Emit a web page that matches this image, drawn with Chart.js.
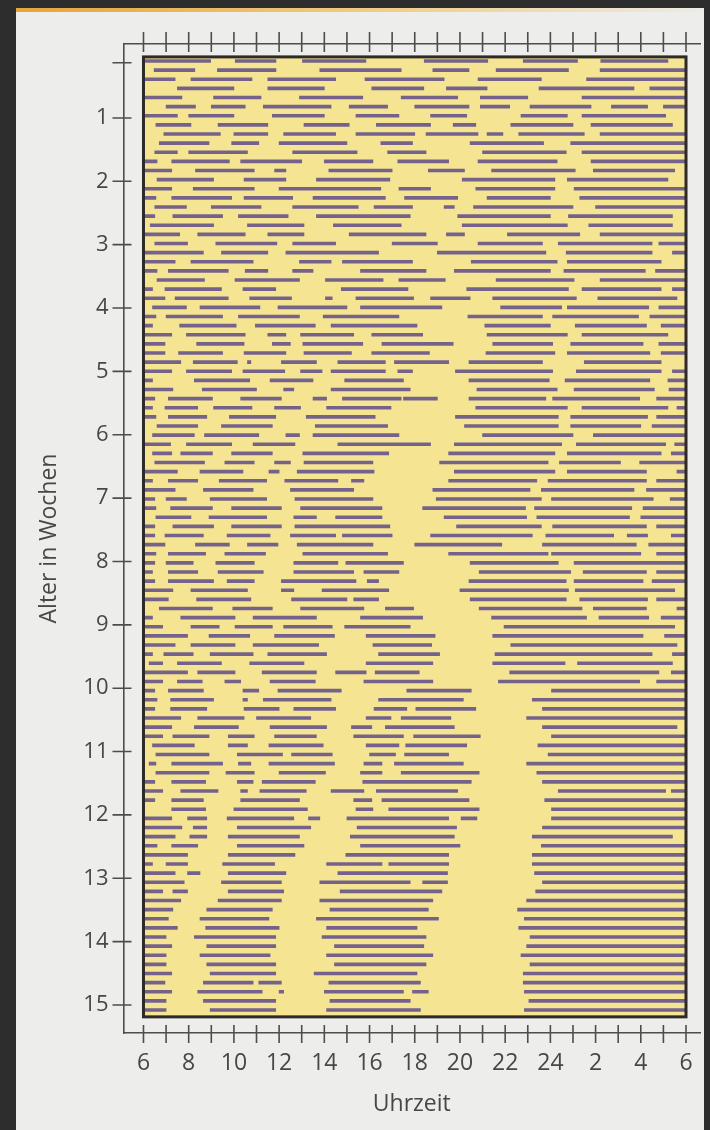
<!DOCTYPE html>
<html>
<head>
<meta charset="utf-8">
<title>Schlaf-Wach-Rhythmus</title>
<script src="https://cdn.jsdelivr.net/npm/chart.js@4.4.1/dist/chart.umd.min.js"></script>
<style>
html, body { margin: 0; padding: 0; background: #2d2d2d; }
#page { position: relative; width: 710px; height: 1130px; overflow: hidden; background: #2d2d2d; }
#paper { position: absolute; left: 16px; top: 8px; right: 6px; bottom: 0; background: #ededeb; }
#paper::before { content: ''; position: absolute; left: 0; right: 0; top: 0; height: 4px;
  background: linear-gradient(to right, #e6a43a, #f0cf8a 55%, #ecebe6 100%); }
canvas { position: absolute; left: 0; top: 0; }
</style>
</head>
<body>
<div id="page">
  <div id="paper"></div>
  <canvas id="chart" width="710" height="1130"></canvas>
</div>
<script>
// hour ticks (6 in the morning to 6 next morning) and week ticks
const hourTicks = [6,7,8,9,10,11,12,13,14,15,16,17,18,19,20,21,22,23,24,25,26,27,28,29,30];
const weekTicks = [1,2,3,4,5,6,7,8,9,10,11,12,13,14,15];

// sleep periods per day, [from, to] in hours (24+ = after midnight)
const week01 = [
  [[6,8.97],[10.06,11.86],[13.03,15.84],[18.42,21.23],[22.8,25.2],[26.23,29.2]],
  [[6.47,8.27],[9.27,11.86],[13.8,17.4],[18.8,20.4],[21.6,24.8],[26.2,30]],
  [[6,7.4],[8.1,10.8],[11.5,14.5],[15.8,19.3],[20.8,23.6],[25.6,30]],
  [[7.5,10],[11.5,14],[16.1,18.4],[19.4,21.2],[23.5,27.7],[28.4,30]],
  [[6,7.7],[9.1,11.2],[12.9,15.7],[17.4,19.9],[20.9,23],[25.4,30]],
  [[7,8.3],[9,10.5],[11.3,14.3],[15.1,16.8],[18,20.4],[20.9,22.2],[23.1,25.8],[26.7,28.3],[29,30]],
  [[6,7.5],[8,10],[11.7,14],[15.4,17.3],[18.7,20.3],[22.7,24.75],[25.4,29.1]]
];
const week02 = [
  [[6.55,8.1],[9.3,11.5],[13.1,15.1],[16.3,18.7],[19.7,20.7],[22.25,25],[25.8,29.4]],
  [[6.9,9.4],[10,11.5],[12.2,14.5],[15.4,18],[18.5,20.8],[21.2,21.9],[22.6,25.5],[26.2,30]],
  [[6.7,8.9],[9.9,11.1],[12,15],[16.5,17.9],[20.45,23.7],[24.9,30]],
  [[6.5,7.5],[8,10.6],[12.6,15.45],[16.8,18.5],[21,24.7],[25.4,30]],
  [[6,6.6],[7.25,9.8],[10.3,13],[14,16.15],[17.25,19.5],[20.8,24.3],[25.8,30]],
  [[6,7.25],[8.3,10.9],[11.8,12.3],[14.2,17],[18.6,20.2],[21.4,25.1],[25.9,29.5]],
  [[6.6,9.1],[10.45,12.3],[13.65,16.9],[20.1,24.2],[24.75,29.2]]
];
const week03 = [
  [[6,7.25],[8.2,10.9],[12,16.5],[17.3,18.7],[20.7,24.2],[25.05,30]],
  [[6,6.55],[7.25,9.9],[10.45,12.6],[13.5,16.7],[17.55,19.9],[21.2,24],[25.3,30]],
  [[6.5,7.9],[9,11.2],[12.6,15.5],[16.2,17.9],[19.3,19.75],[20.6,25],[26,30]],
  [[6,6.5],[7.3,9.5],[10.2,12.4],[13.65,17.8],[19.9,24],[24.8,29.4]],
  [[6.3,9.1],[10.6,13.1],[14.4,17.4],[20.1,24.75],[25.7,29.4]],
  [[6,7.6],[8.4,10.5],[11.5,13.1],[15.1,18.5],[19.4,20.2],[22.1,25.3],[26.2,30]],
  [[6.5,7.95],[9.2,11.9],[12.6,14.5],[17,19],[20.8,23.65],[24.35,28.5],[28.8,30]]
];
const week04 = [
  [[6,8.65],[9.45,11.5],[12.3,16.4],[19,23.8],[24.7,28.5],[29.4,30]],
  [[6,7.4],[8.1,10.85],[12.9,14.3],[14.8,17.9],[20.5,24.3],[24.75,28.9]],
  [[6,6.6],[7.1,9.75],[10.5,11.5],[12.6,13.5],[15.6,18.5],[19.75,24],[24.6,28.2],[28.65,30]],
  [[6.6,8.7],[10.05,12.9],[14.05,16.6],[17.3,19.35],[21.6,25.05],[26.2,30]],
  [[6,6.4],[6.95,9.45],[10.4,11.85],[14.75,17.7],[20.3,24.8],[25.4,28.9],[29.4,30]],
  [[6,6.95],[7.4,9.75],[10.7,12.55],[14.05,14.35],[15.4,17.95],[18.7,20.45],[21.45,25.15],[26.1,29.6]],
  [[6.4,7.9],[8.5,11.15],[11.95,15],[15.6,19.2],[21.8,24.5],[24.75,28.35],[28.8,30]]
];
const week05 = [
  [[6,6.55],[7,9.5],[10.2,12.9],[13.95,17.3],[20.35,23.65],[24.1,27.9],[28.4,30]],
  [[6,6.4],[7.6,10.1],[10.95,13.6],[14.3,18.1],[21.1,24],[25.1,28.25],[28.9,30]],
  [[6,7.25],[7.9,10.5],[11.5,12.3],[12.95,15.3],[16.1,18.35],[21.2,24.75],[25.4,29.2]],
  [[6,6.95],[8.35,10.45],[11.7,12.5],[13.05,15.7],[16.55,19.7],[21.45,24.1],[24.9,28.1],[28.8,30]],
  [[6,6.95],[7.55,9.5],[10.45,12.3],[13.1,15.2],[16.1,18.65],[21.15,24.2],[24.75,28.4],[28.9,30]],
  [[6,7.65],[8.2,10.15],[10.6,10.75],[12.1,13.65],[14.6,16.7],[17.1,19.5],[20.4,23.65],[25.5,28.9]],
  [[6,7.25],[7.9,9.9],[10.4,12.25],[12.95,13.9],[14.3,16.7],[17.25,17.9],[19.8,24.1],[25.15,28.9],[29.4,30]]
];
const week06 = [
  [[6,6.4],[8.25,10.7],[11.6,13.5],[14.9,17.5],[20.4,23.95],[24.65,28.4],[29.2,30]],
  [[6,7.3],[8.6,11],[12.2,12.65],[14.3,17.8],[20.75,24.3],[25.05,28.6],[29.25,30]],
  [[6,6.5],[7.1,9.05],[10.3,12.1],[13.5,14.1],[14.8,17.4],[17.5,19],[20.4,23.8],[24.1,27.95],[28.7,30]],
  [[6,6.4],[6.95,8.4],[9.1,10.8],[11.8,12.95],[14.1,16.95],[20.7,24.75],[25.4,29.2],[29.6,30]],
  [[6,6.55],[7.1,8.8],[9.8,11.85],[13.2,16.25],[19.8,24.35],[24.9,28.3],[28.7,30]],
  [[6.6,8.4],[9.45,11.7],[13.6,16.8],[20.2,24.35],[24.9,28],[28.5,30]],
  [[6.4,8.25],[8.7,11.1],[12.3,12.9],[13.5,17.3],[21,25],[25.9,30]]
];
const week07 = [
  [[6,7.2],[7.9,9.9],[10.85,12.7],[14.6,18.7],[19.75,24.5],[25.15,29.1],[29.5,30]],
  [[6.4,7.25],[7.65,9.05],[9.9,11.7],[13.05,16.85],[19.5,24.2],[24.75,28.9],[29.35,30]],
  [[6.5,8.7],[9.6,10.9],[11.8,12.5],[13.1,16.15],[19.1,23.9],[24.4,27.1],[27.95,30]],
  [[6,7.5],[8.5,10.4],[11.55,12],[12.8,16.2],[19.75,24.2],[24.75,28.25],[29.6,30]],
  [[6,6.4],[7.1,8.4],[9.35,11.45],[12.25,14.6],[15.2,15.75],[19.5,23.4],[23.9,28.25],[28.7,30]],
  [[6,7.4],[8.65,10.85],[12.5,15.3],[18.8,23.1],[23.6,27.7],[28.25,30]],
  [[6,6.5],[7,7.9],[8.95,11.45],[12.7,16.15],[18.95,23.6],[24.05,28.55],[29.3,30]]
];
const week08 = [
  [[6,6.55],[7.2,9.05],[9.9,12.1],[12.95,16.55],[18.35,22.9],[23.3,27.6],[28.1,30]],
  [[6.55,8.1],[8.9,11.45],[12.65,13.65],[14.5,16.55],[19.3,22.95],[23.4,27.5],[28,30]],
  [[6,6.5],[7.3,9.1],[9.9,12.1],[12.7,16.9],[19.85,23.6],[24.1,28.25],[28.7,30]],
  [[6,6.5],[6.95,8.65],[9.7,11.6],[12.5,14.5],[14.8,17],[18.7,23.2],[23.8,26.8],[27.4,28.3],[29.35,30]],
  [[6,6.95],[8.3,9.8],[10.6,11.95],[12.8,16.15],[18,21.85],[23.65,27.8],[28.35,30]],
  [[6,6.55],[7.1,8.75],[9.6,11.4],[13.05,16.8],[19.5,23.9],[24.05,28],[28.7,30]],
  [[6,6.5],[7,8.2],[9.2,10.9],[12.65,14.6],[14.95,17.5],[20.45,24.35],[25.05,30]]
];
const week09 = [
  [[6,6.4],[7.1,8.4],[9.3,11.3],[12.65,15.3],[15.75,17.3],[20.85,24.9],[25.45,28.25],[28.7,30]],
  [[6,6.5],[7.1,9.1],[9.7,10.9],[12.1,15.4],[15.9,16.4],[20.4,24.7],[25.05,28.1],[28.5,30]],
  [[6,7.3],[8.1,10.6],[12.1,12.65],[13.9,16.85],[20,24.8],[25.1,29.5]],
  [[6,7.1],[8.35,10.75],[12.55,15],[15.3,16.4],[20.45,24.7],[25.3,28.3],[28.7,30]],
  [[6.7,9.05],[9.95,11.7],[12.95,15.75],[16.7,17.95],[20.85,25.4],[25.9,28.25],[29.6,30]],
  [[6,6.4],[7.65,10.05],[10.85,13.65],[15.6,18.35],[21.4,25.6],[26.15,28.35],[28.9,30]],
  [[6,6.85],[8.1,9.35],[10.05,11.7],[12.2,14.35],[14.9,17.8],[21.95,29.5]]
];
const week10 = [
  [[6,7.95],[8.9,10.7],[11.8,14.45],[15.85,18.9],[21.45,28.1],[29.05,30]],
  [[6,7.4],[8.1,10.05],[10.85,13.75],[16.15,18.75],[22.25,29.6]],
  [[6,6.4],[6.9,8.2],[8.95,10.85],[11.5,14.1],[16.4,19.1],[21.55,28.5],[29.4,30]],
  [[6.25,6.85],[7.5,9.45],[10.7,13.1],[15.85,18.8],[21.45,24.65],[25.2,29.4]],
  [[6,7.95],[8.4,10.05],[11.25,13.65],[14.5,15.85],[16.25,18.2],[22.2,28.8],[29.35,30]],
  [[6,6.85],[7.5,8.6],[9.6,10.3],[11.6,13.6],[15.75,18.8],[21.7,27.95],[28.7,30]],
  [[6,6.5],[7.1,8.65],[10.4,11.1],[11.95,14.75],[17.65,20.5],[24.05,30]]
];
const week11 = [
  [[6,6.6],[7.2,9.1],[10.4,10.6],[11.3,14.3],[16.4,20.15],[23.2,30]],
  [[6,6.5],[7.2,8.8],[10.45,12],[12.65,14.5],[16.2,17.65],[18.05,20.7],[23.65,30]],
  [[6,7.65],[8.4,10.45],[11,13.4],[15.85,16.95],[17.4,19.6],[22.95,30]],
  [[6,7.25],[8.25,10.2],[11.6,14.1],[15.2,16.1],[16.7,19.75],[23.65,29.6]],
  [[6,6.85],[7.3,8.9],[9.75,10.9],[11.8,13.65],[15.3,17.5],[17.95,20.9],[24.05,30]],
  [[6.4,8.25],[9.75,10.6],[11.55,13.95],[15.85,17.3],[17.6,20.3],[23.45,30]],
  [[6.55,8.9],[10.15,12.15],[12.55,14.35],[16,17.15],[17.55,19.5],[23.9,30]]
];
const week12 = [
  [[6.25,6.55],[7.25,9.5],[10.2,10.75],[11.55,14.45],[15.75,16.55],[17.1,20.15],[22.95,30]],
  [[6.55,8.9],[9.65,10.9],[12,14.05],[15.6,16.55],[17.4,20.85],[23.4,30]],
  [[6,6.5],[7.25,8.75],[10.15,10.85],[11.25,13.6],[15.7,20.5],[23.65,30]],
  [[6,6.85],[7.65,9.3],[10.3,10.6],[11.15,13.2],[14.3,15.75],[16.3,19.9],[24.35,29.1],[29.35,30]],
  [[6,6.5],[7.25,8.65],[10.3,12.9],[15.3,16.1],[16.55,20.4],[23.75,30]],
  [[7.25,8.75],[10,13.25],[15.4,16.15],[16.85,20.85],[24.05,30]],
  [[6,7.25],[7.95,8.8],[9.7,12.65],[13.3,13.8],[15,19.5],[20.05,20.75],[24.05,30]]
];
const week13 = [
  [[6,7.7],[8.2,8.8],[10.15,13.4],[15.45,19.85],[23.65,30]],
  [[6,7.4],[8.05,8.8],[9.75,12.9],[15.15,19.75],[23.2,29.4]],
  [[6,6.6],[7.25,8.4],[10.15,13.1],[15.6,20],[23.6,30]],
  [[6,7.95],[9.75,12.7],[14.95,19.5],[23.2,30]],
  [[6,6.4],[7,7.95],[9.5,11.8],[14.1,16.55],[16.85,19.5],[23.2,30]],
  [[6,7.4],[7.95,8.5],[9.75,12.3],[14.6,19.45],[23.3,30]],
  [[6,7.8],[9.45,12.1],[13.8,17.8],[18.35,19.45],[23.65,30]]
];
const week14 = [
  [[6,6.85],[7.3,7.95],[9.75,12.2],[14.7,19.2],[23.35,30]],
  [[6,7.65],[9.3,12.1],[13.8,18.8],[22.95,30]],
  [[6,7.3],[8.8,11.7],[14.25,18.6],[22.55,30]],
  [[6,7.1],[8.5,11.55],[13.65,19.05],[22.85,30]],
  [[6,7.5],[8.75,12],[14.1,18.1],[22.6,30]],
  [[6,7],[8.25,11.85],[13.9,18.5],[23.1,30]],
  [[6,7.25],[8.8,11.85],[14.45,18.4],[22.95,30]]
];
const week15 = [
  [[6,7],[8.5,11.6],[14.1,18.8],[22.7,30]],
  [[6,7],[8.8,11.85],[14.45,18.5],[23.1,30]],
  [[6,7.25],[8.95,11.85],[13.55,18.1],[22.8,30]],
  [[6,6.95],[8.65,10.85],[11.1,12.1],[14.2,18.25],[22.8,30]],
  [[6,7.25],[8.4,11.25],[12,12.2],[14,17.5],[17.9,18.6],[22.85,30]],
  [[6,7],[8.65,11.85],[14.25,17.8],[23.05,30]],
  [[6,7],[8.95,11.85],[14.1,18.25],[22.85,30]]
];

const days = [].concat(week01, week02, week03, week04, week05, week06, week07, week08,
                       week09, week10, week11, week12, week13, week14, week15);

// one dataset per "n-th sleep period of the day"
const maxSegs = Math.max(...days.map(d => d.length));
const datasets = [];
for (let k = 0; k < maxSegs; k++) {
  const pts = [];
  days.forEach((d, row) => {
    if (d[k]) pts.push({ x: d[k], y: row });
  });
  datasets.push({
    data: pts,
    backgroundColor: '#74628a',
    borderWidth: 0,
    barThickness: 3,
    grouped: false
  });
}

const axisColor = '#4d4d4d';
const textColor = '#474747';

// yellow field, thick frame and the crossing tick marks
const frame = {
  id: 'frame',
  beforeDatasetsDraw(chart) {
    const { ctx, scales: { x, y } } = chart;
    const l = x.getPixelForValue(6), r = x.getPixelForValue(30);
    const t = y.getPixelForValue(-0.45), b = y.getPixelForValue(104.75);
    ctx.save();
    ctx.fillStyle = '#f5e593';
    ctx.fillRect(l, t, r - l, b - t);
    ctx.restore();
  },
  afterDatasetsDraw(chart) {
    const { ctx, chartArea, scales: { x, y, weeks } } = chart;
    const l = x.getPixelForValue(6), r = x.getPixelForValue(30);
    const t = y.getPixelForValue(-0.45), b = y.getPixelForValue(104.75);
    ctx.save();
    ctx.strokeStyle = '#2e2a2a';
    ctx.lineWidth = 3;
    ctx.strokeRect(l, t, r - l, b - t);

    ctx.strokeStyle = axisColor;
    ctx.lineWidth = 1.6;
    ctx.beginPath();
    hourTicks.forEach(h => {
      const px = x.getPixelForValue(h);
      ctx.moveTo(px, chartArea.top - 12); ctx.lineTo(px, chartArea.top + 8);
      ctx.moveTo(px, chartArea.bottom - 8); ctx.lineTo(px, chartArea.bottom + 10);
    });
    const yTicks = weekTicks.map(w => weeks.getPixelForValue(w));
    yTicks.push(y.getPixelForValue(0.2));
    yTicks.forEach(py => {
      ctx.moveTo(chartArea.left - 11, py); ctx.lineTo(chartArea.left + 8, py);
    });
    ctx.stroke();
    ctx.restore();
  }
};

Chart.defaults.font.family = "'Open Sans', sans-serif";
Chart.defaults.color = textColor;

const ctx = document.getElementById('chart');
new Chart(ctx, {
  type: 'bar',
  data: { datasets: datasets },
  plugins: [frame],
  options: {
    indexAxis: 'y',
    responsive: false,
    animation: false,
    layout: { padding: { left: 0, right: 10, top: 0, bottom: 0 } },
    plugins: { legend: { display: false }, tooltip: { enabled: false } },
    scales: {
      x: {
        type: 'linear',
        position: 'bottom',
        offset: false,
        min: 5.116, max: 30.619,
        afterBuildTicks: s => { s.ticks = hourTicks.map(v => ({ value: v })); },
        afterFit: s => { s.height = 97; },
        grid: { display: false, drawTicks: false },
        border: { display: true, color: axisColor, width: 1.6 },
        ticks: {
          autoSkip: false, maxRotation: 0, padding: 17,
          font: { size: 23 },
          callback: v => (v % 2 === 0 ? String(v > 24 ? v - 24 : v) : '')
        },
        title: { display: true, text: 'Uhrzeit', font: { size: 23 }, padding: { top: 0, bottom: 12 } }
      },
      x2: {
        type: 'linear',
        position: 'top',
        offset: false,
        min: 5.116, max: 30.619,
        afterFit: s => { s.height = 44; },
        grid: { display: false, drawTicks: false },
        border: { display: true, color: axisColor, width: 1.6 },
        ticks: { display: false }
      },
      y: {
        type: 'linear',
        reverse: true,
        offset: false,
        min: -1.863, max: 106.52,
        display: false
      },
      weeks: {
        type: 'linear',
        position: 'left',
        reverse: true,
        offset: false,
        min: -0.167, max: 15.442,
        afterBuildTicks: s => { s.ticks = weekTicks.map(v => ({ value: v })); },
        afterFit: s => { s.width = 123.5; },
        grid: { display: false, drawTicks: false, offset: false },
        border: { display: true, color: axisColor, width: 1.6 },
        ticks: { padding: 15, font: { size: 22 } },
        title: { display: true, text: 'Alter in Wochen', font: { size: 23 }, padding: { top: 36, bottom: 0 } }
      }
    }
  }
});
</script>
</body>
</html>
